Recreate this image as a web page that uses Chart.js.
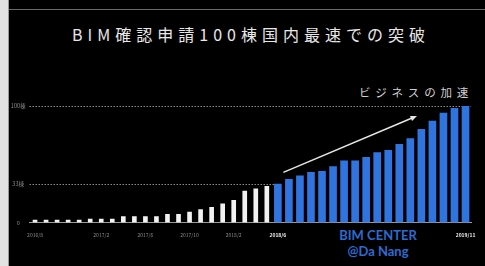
<!DOCTYPE html>
<html>
<head>
<meta charset="utf-8">
<script src="https://cdn.jsdelivr.net/npm/chart.js@4"></script>
<style>
  html, body { margin: 0; padding: 0; background: #000; }
  body { width: 485px; height: 266px; position: relative; overflow: hidden; font-family: "Noto Sans CJK JP", sans-serif; }
  #frame { position: absolute; left: 0; top: 0; width: 8px; height: 266px; background: #e2e2e2; border-right: 1px solid #9a9a9a; }
  #rule { position: absolute; left: 9px; top: 9px; width: 476px; height: 1px; background: #6a6a6a; }
  #title { position: absolute; left: 6px; top: 24px; width: 485px; text-align: center; color: #e8e8e8;
           font-size: 16px; line-height: 20px; letter-spacing: 5px; text-indent: 5px; }
  #speed { position: absolute; left: 351px; top: 83px; width: 130px; text-align: center; color: #d0d0d0;
           font-size: 11.5px; line-height: 18px; letter-spacing: 4.8px; }
  #center { position: absolute; left: 318px; top: 228px; width: 120px; text-align: center; color: #2a6bd1;
            font-family: Lato, sans-serif; font-weight: bold; font-size: 13px; line-height: 15.5px; }
  #wrap { position: absolute; left: 0; top: 0; width: 485px; height: 266px; }
</style>
</head>
<body>
<div id="frame"></div>
<div id="rule"></div>
<div id="title">BIM確認申請100棟国内最速での突破</div>
<div id="speed">ビジネスの加速</div>
<div id="center">BIM CENTER<br>@Da Nang</div>
<div id="wrap"><canvas id="bimChart"></canvas></div>
<script>
const months = [
  '2016/8', '2016/9', '2016/10', '2016/11', '2016/12',
  '2017/1', '2017/2', '2017/3', '2017/4', '2017/5', '2017/6', '2017/7', '2017/8', '2017/9', '2017/10', '2017/11', '2017/12',
  '2018/1', '2018/2', '2018/3', '2018/4', '2018/5', '2018/6', '2018/7', '2018/8', '2018/9', '2018/10', '2018/11', '2018/12',
  '2019/1', '2019/2', '2019/3', '2019/4', '2019/5', '2019/6', '2019/7', '2019/8', '2019/9', '2019/10', '2019/11'
];
const shownMonths = ['2016/8', '2017/2', '2017/6', '2017/10', '2018/2', '2018/6', '2019/11'];
const highlightMonths = ['2018/6', '2019/11'];

// cumulative counts before / after BIM CENTER
const beforeCounts = [
  2, 2, 2, 2, 2, 3, 3, 3, 5, 5, 5, 5, 7, 7, 9, 11, 13, 16, 19, 27, 29, 31,
  null, null, null, null, null, null, null, null, null, null, null, null, null, null, null, null, null, null
];
const afterCounts = [
  null, null, null, null, null, null, null, null, null, null, null, null, null, null, null, null, null, null, null, null, null, null,
  33, 37, 40, 43, 44, 48, 53, 53, 56, 60, 62, 67, 72, 80, 87, 94, 98, 100
];

const yTicks = [0, 33, 100];
const yTickLabels = ['0', '33棟', '100棟'];

// arrow in data space: [category index, value]
const arrowFrom = [22.5, 43];
const arrowTo = [34.6, 91.5];

const dottedLines = {
  id: 'dottedLines',
  beforeDatasetsDraw(chart) {
    const { ctx, chartArea, scales: { x, y } } = chart;
    const firstAfter = afterCounts.findIndex(v => v !== null);
    ctx.save();
    ctx.strokeStyle = '#8a8a8a';
    ctx.lineWidth = 1;
    ctx.setLineDash([1.5, 1.5]);
    yTicks.forEach(v => {
      if (v === 0) return;
      const py = Math.round(y.getPixelForValue(v)) + 0.5;
      const end = v === 100 ? chartArea.right : x.getPixelForValue(firstAfter);
      ctx.beginPath();
      ctx.moveTo(chartArea.left, py);
      ctx.lineTo(end, py);
      ctx.stroke();
    });
    ctx.restore();
  }
};

const arrow = {
  id: 'arrow',
  afterDatasetsDraw(chart) {
    const { ctx, scales: { x, y } } = chart;
    const x1 = x.getPixelForValue(arrowFrom[0]), y1 = y.getPixelForValue(arrowFrom[1]);
    const x2 = x.getPixelForValue(arrowTo[0]), y2 = y.getPixelForValue(arrowTo[1]);
    const a = Math.atan2(y2 - y1, x2 - x1);
    ctx.save();
    ctx.strokeStyle = '#e6e6e6';
    ctx.fillStyle = '#e6e6e6';
    ctx.lineWidth = 1.5;
    ctx.beginPath();
    ctx.moveTo(x1, y1);
    ctx.lineTo(x2 - 4 * Math.cos(a), y2 - 4 * Math.sin(a));
    ctx.stroke();
    ctx.beginPath();
    ctx.moveTo(x2, y2);
    ctx.lineTo(x2 - 7 * Math.cos(a - 0.4), y2 - 7 * Math.sin(a - 0.4));
    ctx.lineTo(x2 - 7 * Math.cos(a + 0.4), y2 - 7 * Math.sin(a + 0.4));
    ctx.closePath();
    ctx.fill();
    ctx.restore();
  }
};

new Chart(document.getElementById('bimChart'), {
  type: 'bar',
  data: {
    labels: months,
    datasets: [
      { label: 'before', data: beforeCounts, backgroundColor: '#f2f2f2', barThickness: 4 },
      { label: 'after', data: afterCounts, backgroundColor: '#3074e0', barThickness: 7 }
    ]
  },
  options: {
    responsive: true,
    maintainAspectRatio: false,
    animation: false,
    layout: { padding: { top: 106, left: 0, right: 13.5, bottom: 19.5 } },
    plugins: { legend: { display: false }, tooltip: { enabled: false } },
    scales: {
      x: {
        stacked: true,
        grid: { display: false, drawTicks: false },
        border: { display: true, color: '#9a9a9a', width: 1 },
        afterFit(scale) { scale.height = 24; },
        ticks: {
          autoSkip: false,
          maxRotation: 0,
          minRotation: 0,
          padding: 9.5,
          callback: (v, i) => shownMonths.includes(months[i]) ? months[i] : '',
          color: c => highlightMonths.includes(months[c.index]) ? '#f0f0f0' : '#8a8a8a',
          font: c => ({
            family: '"Noto Sans CJK JP", sans-serif',
            size: 5,
            weight: highlightMonths.includes(months[c.index]) ? 'bold' : 'normal'
          })
        }
      },
      y: {
        min: 0,
        max: 100,
        grid: { display: false, drawTicks: false },
        border: { display: false },
        afterFit(scale) { scale.width = 29.5; },
        afterBuildTicks(scale) { scale.ticks = yTicks.map(v => ({ value: v })); },
        ticks: {
          crossAlign: 'center',
          padding: 4,
          color: '#8a8a8a',
          font: { family: '"Noto Sans CJK JP", sans-serif', size: 5.5 },
          callback: v => yTickLabels[yTicks.indexOf(v)]
        }
      }
    }
  },
  plugins: [dottedLines, arrow]
});
</script>
</body>
</html>
